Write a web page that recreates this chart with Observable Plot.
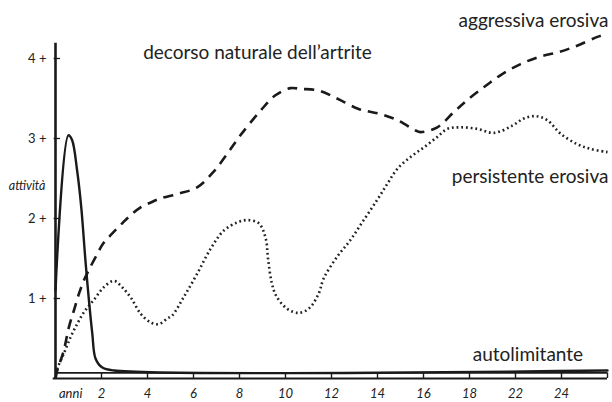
<!DOCTYPE html>
<html>
<head>
<meta charset="utf-8">
<script src="https://cdn.jsdelivr.net/npm/d3@7"></script>
<script src="https://cdn.jsdelivr.net/npm/@observablehq/plot@0.6"></script>
<style>
  html, body { margin: 0; padding: 0; background: #fff; }
  svg { display: block; }
</style>
</head>
<body>
<div id="chart"></div>
<script>
// x is in axis steps (one step = one labelled tick), y is "attività"
const xTickPos = [1,2,3,4,5,6,7,8,9,10,11];
const xTickLabels = ["2","4","6","8","10","12","14","16","18","22","24"];
const xTickMarks = [1,2,3,4,5,6,7,8,9,10,11,12];
const yTicks = [1,2,3,4];
const yTickLabels = ["1 +","2 +","3 +","4 +"];

const aggressivaX = [0,0.04,0.18,0.29,0.40,0.51,0.62,0.72,0.91,1.04,1.23,1.45,1.63,1.85,2.07,2.28,2.68,3.08,3.43,3.76,4.02,4.46,4.78,5.11,5.33,5.72,6.12,6.59,7.03,7.43,7.83,7.93,8.30,8.66,8.95,9.31,9.67,10.11,10.51,10.94,11.34,11.78,12.0];
const aggressivaY = [0,0.1,0.35,0.64,0.85,1.06,1.23,1.35,1.56,1.69,1.81,1.94,2.04,2.14,2.20,2.25,2.31,2.39,2.58,2.83,3.04,3.35,3.54,3.63,3.62,3.60,3.50,3.37,3.31,3.23,3.10,3.08,3.14,3.33,3.48,3.64,3.79,3.93,4.02,4.08,4.16,4.27,4.31];

const persistenteX = [0,0.04,0.18,0.33,0.47,0.62,0.83,1.05,1.27,1.45,1.65,1.85,2.07,2.25,2.43,2.54,2.79,3.08,3.37,3.66,3.95,4.17,4.42,4.57,4.62,4.70,4.80,5.04,5.29,5.52,5.72,5.83,6.12,6.41,6.70,6.99,7.21,7.43,7.72,8.01,8.30,8.52,8.80,9.17,9.53,9.93,10.18,10.43,10.69,10.98,11.34,11.63,12.0];
const persistenteY = [0,0.12,0.31,0.52,0.68,0.83,0.98,1.14,1.22,1.14,1.0,0.81,0.70,0.68,0.75,0.79,1.02,1.31,1.62,1.85,1.95,1.98,1.94,1.75,1.50,1.20,1.03,0.87,0.82,0.88,1.06,1.25,1.52,1.73,1.98,2.23,2.43,2.62,2.77,2.89,3.02,3.12,3.14,3.12,3.07,3.16,3.25,3.28,3.23,3.06,2.93,2.87,2.83];

const autolimitanteX = [0,0.28,0.36,0.47,0.56,0.65,0.72,0.80,0.87,1.01,1.27,12];
const autolimitanteY = [1.1,3.04,2.98,2.6,2.14,1.48,1.02,0.56,0.25,0.14,0.10,0.10];

const toRows = (xs, ys) => xs.map((x, i) => ({x, y: ys[i]}));
const aggressiva = toRows(aggressivaX, aggressivaY);
const persistente = toRows(persistenteX, persistenteY);
const autolimitante = toRows(autolimitanteX, autolimitanteY);

const font = "Lato, 'Open Sans', sans-serif";

const chart = Plot.plot({
  width: 612,
  height: 402,
  marginLeft: 0, marginRight: 0, marginTop: 0, marginBottom: 0,
  style: {fontFamily: font, color: "#222", background: "#fff"},
  x: {domain: [0, 12], range: [55, 607], axis: null},
  y: {domain: [0, 4], range: [378, 58], axis: null},
  marks: [
    // curves
    Plot.line(persistente, {x: "x", y: "y", curve: "catmull-rom", stroke: "#222", strokeWidth: 2.6, strokeDasharray: "1.8,2.9", strokeLinecap: "butt"}),
    Plot.line(aggressiva, {x: "x", y: "y", curve: "catmull-rom", stroke: "#1a1a1a", strokeWidth: 2.6, strokeDasharray: "10,7", strokeLinecap: "butt"}),
    Plot.line(autolimitante, {x: "x", y: "y", curve: "catmull-rom", stroke: "#1a1a1a", strokeWidth: 2.4}),
    // y axis
    Plot.ruleX([0], {y1: 0, y2: 4.19, stroke: "#1a1a1a", strokeWidth: 2.6}),
    Plot.ruleY(yTicks, {x1: -0.03, x2: 0.11, stroke: "#1a1a1a", strokeWidth: 1.3}),
    Plot.text(yTicks, {x: 0, y: d => d, text: (d, i) => yTickLabels[i], textAnchor: "end", dx: -9, fontSize: 13, fill: "#222"}),
    Plot.text(["attività"], {x: 0, y: 2.41, text: d => d, textAnchor: "end", dx: -10, fontSize: 12.5, fontStyle: "italic", fill: "#222"}),
    // x axis (double rail)
    Plot.ruleY([0], {x1: -0.05, x2: 12, stroke: "#1a1a1a", strokeWidth: 2.2}),
    Plot.ruleY([0.07], {x1: 0, x2: 12, stroke: "#1a1a1a", strokeWidth: 1.6}),
    Plot.ruleX(xTickMarks, {y1: 0, y2: 0.07, stroke: "#1a1a1a", strokeWidth: 1.4}),
    Plot.text(xTickPos, {x: d => d, y: 0, text: (d, i) => xTickLabels[i], dy: 15, fontSize: 13, fontStyle: "italic", fill: "#222"}),
    Plot.text(["anni"], {x: 0.33, y: 0, text: d => d, dy: 15, fontSize: 13, fontStyle: "italic", fill: "#222"}),
    // series labels
    Plot.text(["decorso naturale dell\u2019artrite"], {x: 4.39, y: 4.075, text: d => d, fontSize: 19, fill: "#222"}),
    Plot.text(["aggressiva erosiva"], {x: 12.02, y: 4.475, text: d => d, textAnchor: "end", fontSize: 19, fill: "#222"}),
    Plot.text(["persistente erosiva"], {x: 12.02, y: 2.525, text: d => d, textAnchor: "end", fontSize: 19, fill: "#222"}),
    Plot.text(["autolimitante"], {x: 10.27, y: 0.29, text: d => d, textAnchor: "middle", fontSize: 19, fill: "#222"})
  ]
});
document.getElementById("chart").appendChild(chart);
</script>
</body>
</html>
